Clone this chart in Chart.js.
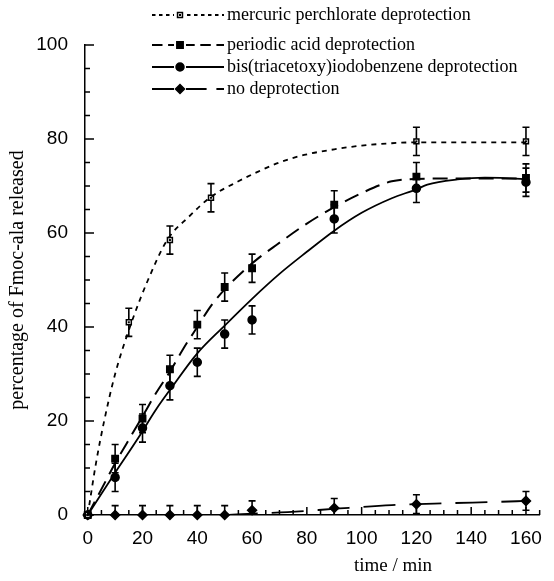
<!DOCTYPE html>
<html><head><meta charset="utf-8">
<script src="https://cdn.jsdelivr.net/npm/chart.js@4/dist/chart.umd.min.js"></script>
<style>html,body{margin:0;padding:0;background:#fff}#wrap{width:554px;height:581px}</style>
</head><body><div id="wrap"><canvas id="c" width="554" height="581"></canvas></div>
<script>
// ---- data ----
const seriesNames = [
  "mercuric perchlorate deprotection",
  "periodic acid deprotection",
  "bis(triacetoxy)iodobenzene deprotection",
  "no deprotection"
];
const mercuricTime = [0, 15, 30, 45, 120, 160];
const mercuricPct  = [0, 41, 58.5, 67.5, 79.5, 79.5];
const mercuricErr  = [0, 3, 3, 3, 3, 3];

const periodicTime = [0, 10, 20, 30, 40, 50, 60, 90, 120, 160];
const periodicPct  = [0, 12, 20.5, 31, 40.5, 48.5, 52.5, 66, 72, 71.7];
const periodicErr  = [0, 3, 3, 3, 3, 3, 3, 3, 3, 3];

const bisTime = [0, 10, 20, 30, 40, 50, 60, 90, 120, 160];
const bisPct  = [0, 8, 18.5, 27.5, 32.5, 38.5, 41.5, 63, 69.5, 70.8];
const bisErr  = [0, 3, 3, 3, 3, 3, 3, 3, 3, 3];

const noneTime = [0, 10, 20, 30, 40, 50, 60, 90, 120, 160];
const nonePct  = [0, 0, 0, 0, 0, 0, 1, 1.5, 2.3, 3];
const noneErr  = [0, 2, 2, 2, 2, 2, 2, 2, 2, 2];

// fitted curves as drawn in the reference
const mercuricFitTime = [0, 3, 6, 10, 16, 22, 29, 37, 45, 55, 62, 70, 79, 90, 100, 111, 120, 140, 160];
const mercuricFitPct  = [0, 11, 20, 30, 41, 50, 58.5, 63.5, 67.7, 71, 73, 75, 76.6, 77.8, 78.6, 79.1, 79.3, 79.3, 79.3];

const periodicFitTime = [0, 5, 10, 16, 20, 25, 30, 35, 40, 45, 50, 57, 62, 69, 80, 90, 100, 111, 120, 135, 160];
const periodicFitPct  = [0, 5.5, 11, 17, 21, 26, 30.5, 35.5, 40, 44.5, 48, 52, 54.5, 57.5, 62, 65.5, 68.5, 71, 71.5, 71.6, 71.6];

const bisFitTime = [0, 5, 10, 18, 25, 30, 40, 50, 60, 70, 80, 90, 100, 111, 120, 124, 135, 145, 158, 160];
const bisFitPct  = [0, 4.5, 9, 16, 22.5, 26.6, 34.4, 40.3, 46, 51.3, 56, 60.5, 64.3, 67.4, 69.3, 70.3, 71.4, 71.8, 71.5, 71.4];

const noneFitTime = [0, 50, 60, 73, 92, 111, 131, 150, 160];
const noneFitPct  = [0, 0, 0.3, 0.6, 1.4, 2.1, 2.5, 2.8, 3];

const xTickLabels = [0, 20, 40, 60, 80, 100, 120, 140, 160];
const yTickLabels = [0, 20, 40, 60, 80, 100];
const xAxisTitle = "time / min";
const yAxisTitle = "percentage of Fmoc-ala released";

// ---- build ----
const pts = (xs, ys) => xs.map((x, i) => ({x: x, y: ys[i]}));
const styles = [
  {dash: [5, 5], width: 1.8, point: 'rect', radius: 3.5, fill: '#fff'},
  {dash: [15, 8], width: 2, point: 'rect', radius: 4.5, fill: '#000'},
  {dash: [], width: 1.8, point: 'circle', radius: 4, fill: '#000'},
  {dash: [32, 14], width: 1.8, point: 'rectRot', radius: 4.5, fill: '#000'}
];
const fits = [pts(mercuricFitTime, mercuricFitPct), pts(periodicFitTime, periodicFitPct), pts(bisFitTime, bisFitPct), pts(noneFitTime, noneFitPct)];
const marks = [pts(mercuricTime, mercuricPct), pts(periodicTime, periodicPct), pts(bisTime, bisPct), pts(noneTime, nonePct)];
const errs = [mercuricErr, periodicErr, bisErr, noneErr];

const datasets = [];
fits.forEach((d, i) => datasets.push({
  label: seriesNames[i] + ' fit', data: d, showLine: true, pointRadius: 0,
  borderColor: '#000', borderWidth: styles[i].width, borderDash: styles[i].dash,
  cubicInterpolationMode: 'monotone', fill: false
}));
marks.forEach((d, i) => datasets.push({
  label: seriesNames[i], data: d, showLine: false,
  pointStyle: styles[i].point, pointRadius: styles[i].radius,
  pointBackgroundColor: styles[i].fill, pointBorderColor: '#000', pointBorderWidth: 1.5,
  clip: false, errors: errs[i], centerDot: i === 0
}));

const errorBars = {
  id: 'errorBars',
  beforeDatasetsDraw(chart) {
    const ctx = chart.ctx, ys = chart.scales.y, a = chart.chartArea;
    ctx.save();
    ctx.beginPath(); ctx.rect(a.left, a.top - 5, a.right - a.left, a.bottom - a.top + 5); ctx.clip();
    ctx.strokeStyle = '#000'; ctx.lineWidth = 1.6;
    chart.data.datasets.forEach((ds, di) => {
      if (!ds.errors) return;
      const meta = chart.getDatasetMeta(di);
      meta.data.forEach((p, j) => {
        const e = ds.errors[j]; if (!e) return;
        const v = ds.data[j].y;
        const y1 = ys.getPixelForValue(v + e), y2 = ys.getPixelForValue(v - e);
        ctx.beginPath();
        ctx.moveTo(p.x, y1); ctx.lineTo(p.x, y2);
        ctx.moveTo(p.x - 3.5, y1); ctx.lineTo(p.x + 3.5, y1);
        ctx.moveTo(p.x - 3.5, y2); ctx.lineTo(p.x + 3.5, y2);
        ctx.stroke();
      });
    });
    ctx.restore();
  },
  afterDatasetsDraw(chart) {
    const ctx = chart.ctx;
    ctx.save(); ctx.fillStyle = '#000';
    chart.data.datasets.forEach((ds, di) => {
      if (!ds.centerDot) return;
      chart.getDatasetMeta(di).data.forEach(p => { ctx.fillRect(p.x - 1, p.y - 1, 2, 2); });
    });
    ctx.restore();
  }
};

const axisDecor = {
  id: 'axisDecor',
  afterDraw(chart) {
    const ctx = chart.ctx, xs = chart.scales.x, ys = chart.scales.y, a = chart.chartArea;
    ctx.save();
    ctx.strokeStyle = '#000'; ctx.lineWidth = 1.5;
    ctx.beginPath();
    for (let v = 0; v <= 165; v += 5) {
      const x = xs.getPixelForValue(v), L = (v % 20 === 0) ? 8 : 5;
      ctx.moveTo(x, a.bottom); ctx.lineTo(x, a.bottom - L);
    }
    for (let v = 0; v <= 100; v += 5) {
      const y = ys.getPixelForValue(v), L = (v % 20 === 0) ? 9 : 5;
      ctx.moveTo(a.left, y); ctx.lineTo(a.left + L, y);
    }
    ctx.stroke();
    // x-axis title
    ctx.fillStyle = '#000';
    ctx.font = '19px "Liberation Serif", "Times New Roman", serif';
    ctx.textAlign = 'center'; ctx.textBaseline = 'middle';
    ctx.fillText(xAxisTitle, 393, 566);
    // legend
    const rows = [15, 45, 67, 89];
    ctx.font = '18px "Liberation Serif", "Times New Roman", serif';
    ctx.textAlign = 'left';
    rows.forEach((ry, i) => {
      const st = styles[i];
      ctx.save();
      ctx.setLineDash(st.dash.length ? st.dash.map(d => d * 0.7) : []);
      ctx.lineWidth = st.width;
      ctx.beginPath(); ctx.moveTo(152, ry); ctx.lineTo(224, ry); ctx.stroke();
      ctx.restore();
      const mx = 180;
      ctx.save();
      ctx.fillStyle = '#fff'; ctx.fillRect(mx - 6, ry - 6, 12, 12);
      ctx.restore();
      ctx.fillStyle = st.fill; ctx.strokeStyle = '#000';
      Chart.helpers.drawPoint(ctx, {pointStyle: st.point, radius: st.radius, borderWidth: 1.5}, mx, ry);
      if (i === 0) { ctx.fillStyle = '#000'; ctx.fillRect(mx - 1, ry - 1, 2, 2); }
      ctx.fillStyle = '#000';
      ctx.fillText(seriesNames[i], 227, ry);
    });
    ctx.restore();
  }
};

new Chart(document.getElementById('c'), {
  type: 'scatter',
  data: {datasets},
  options: {
    responsive: false, animation: false, devicePixelRatio: 1,
    layout: {padding: {top: 45, right: 2, left: 0, bottom: 0}},
    plugins: {legend: {display: false}, tooltip: {enabled: false}},
    scales: {
      x: {
        type: 'linear', min: -1, max: 165,
        afterBuildTicks: s => { s.ticks = xTickLabels.map(v => ({value: v})); },
        afterFit: s => { s.height = 66; },
        grid: {display: false, drawTicks: false},
        border: {display: true, color: '#000', width: 1.5},
        ticks: {color: '#000', padding: 12, font: {family: '"Liberation Sans", Arial, sans-serif', size: 19}}
      },
      y: {
        type: 'linear', min: 0, max: 100,
        afterBuildTicks: s => { s.ticks = yTickLabels.map(v => ({value: v})); },
        afterFit: s => { s.width = 85; },
        grid: {display: false, drawTicks: false},
        border: {display: true, color: '#000', width: 1.5},
        ticks: {color: '#000', padding: 17, font: {family: '"Liberation Sans", Arial, sans-serif', size: 19}},
        title: {display: true, text: yAxisTitle, color: '#000', padding: {top: 6, bottom: 0},
          font: {family: '"Liberation Serif", "Times New Roman", serif', size: 20}}
      }
    }
  },
  plugins: [errorBars, axisDecor]
});
</script></body></html>
